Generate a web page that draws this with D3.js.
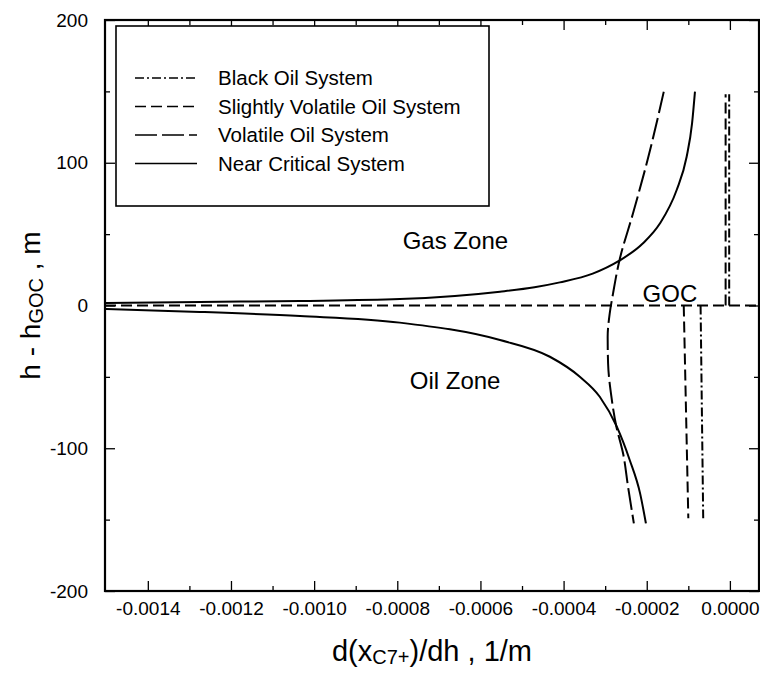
<!DOCTYPE html>
<html>
<head>
<meta charset="utf-8">
<script src="https://cdn.jsdelivr.net/npm/d3@7"></script>
<style>
  body { margin: 0; background: #fff; }
  text { font-family: "Liberation Sans", Arial, sans-serif; fill: #000; }
</style>
</head>
<body>
<script>
// tick values
var xTicks = [-0.0014, -0.0012, -0.0010, -0.0008, -0.0006, -0.0004, -0.0002, 0.0000];
var xMinorTicks = [-0.0013, -0.0011, -0.0009, -0.0007, -0.0005, -0.0003, -0.0001];
var yTicks = [-200, -100, 0, 100, 200];
var yMinorTicks = [-150, -50, 50, 150];

// series: [d(xC7+)/dh, h - hGOC]
var nearCriticalGas = [[-0.001501, 1.8], [-0.001275, 2.5], [-0.001034, 3.2], [-0.000794, 4.5], [-0.000553, 9.7],
                       [-0.000470, 12.8], [-0.000409, 16.2], [-0.000330, 22.3], [-0.000267, 31.2], [-0.000209, 43.6],
                       [-0.000168, 57.6], [-0.000128, 80.9], [-0.000104, 104.2], [-0.000091, 127.6], [-0.000084, 149.8]];
var nearCriticalOil = [[-0.001501, -2.5], [-0.001275, -4.5], [-0.001034, -7.4], [-0.000794, -12.0], [-0.000553, -24.2],
                       [-0.000433, -35.9], [-0.000361, -49.9], [-0.000313, -63.9], [-0.000272, -84.9], [-0.000241, -108.2],
                       [-0.000216, -131.6], [-0.000202, -152.6]];
var volatileOil = [[-0.000159, 149.8], [-0.000197, 103.1], [-0.000233, 64.6], [-0.000266, 31.2], [-0.000281, 8.5],
                   [-0.000289, -5.5], [-0.000294, -22], [-0.000293, -40.5], [-0.000285, -63.9], [-0.000273, -84.9],
                   [-0.000257, -103.5], [-0.000245, -126.9], [-0.000231, -152.6]];
var slightlyVolatileOilZone = [[-0.000111, 0], [-0.000100, -149]];
var slightlyVolatileGasZone = [[-0.0000103, 0], [-0.0000103, 148]];
var blackOilOilZone = [[-0.0000705, 0], [-0.0000642, -149]];
var blackOilGasZone = [[-0.0000017, 0], [-0.0000017, 148]];
var gocLine = [[-0.001503, 0], [0.00007, 0]];

var legendNames = ["Black Oil System", "Slightly Volatile Oil System", "Volatile Oil System", "Near Critical System"];
var annotations = [{text: "Gas Zone", x: -0.000787, h: 39.4},
                   {text: "Oil Zone", x: -0.00077, h: -58.3},
                   {text: "GOC", x: -0.00021, h: 2.6}];

var width = 760;
var height = 683;
var margin = {left: 105, top: 20, right: 1, bottom: 92};

var dashes = {
  black: "9,3,2,3",
  slight: "11,5",
  volatile: "22,5",
  near: null
};

var svg = d3.select("body").append("svg").attr("width", width).attr("height", height);

var x = d3.scaleLinear().domain([-0.001503, 0.00007]).range([margin.left, width - margin.right]);
var y = d3.scaleLinear().domain([-200, 200]).range([height - margin.bottom, margin.top]);

var fmtX = function(d){ return d.toFixed(4); };
var fmtY = function(d){ return String(d); };

function styleAxis(g){
  g.select(".domain").remove();
  g.selectAll(".tick line").attr("stroke", "black").attr("stroke-width", 1.3);
  g.selectAll(".tick text").style("font-size", "19px").style("font-family", "Liberation Sans, Arial, sans-serif");
}

// bottom
svg.append("g").attr("transform", "translate(0," + y(-200) + ")")
  .call(d3.axisBottom(x).tickValues(xTicks).tickFormat(fmtX).tickSize(-10).tickPadding(11)).call(styleAxis);
svg.append("g").attr("transform", "translate(0," + y(-200) + ")")
  .call(d3.axisBottom(x).tickValues(xMinorTicks).tickFormat("").tickSize(-5)).call(styleAxis);
// top
svg.append("g").attr("transform", "translate(0," + y(200) + ")")
  .call(d3.axisTop(x).tickValues(xTicks).tickFormat("").tickSize(-10)).call(styleAxis);
svg.append("g").attr("transform", "translate(0," + y(200) + ")")
  .call(d3.axisTop(x).tickValues(xMinorTicks).tickFormat("").tickSize(-5)).call(styleAxis);
// left
svg.append("g").attr("transform", "translate(" + x.range()[0] + ",0)")
  .call(d3.axisLeft(y).tickValues(yTicks).tickFormat(fmtY).tickSize(-10).tickPadding(17)).call(styleAxis);
svg.append("g").attr("transform", "translate(" + x.range()[0] + ",0)")
  .call(d3.axisLeft(y).tickValues(yMinorTicks).tickFormat("").tickSize(-5)).call(styleAxis);
// right
svg.append("g").attr("transform", "translate(" + x.range()[1] + ",0)")
  .call(d3.axisRight(y).tickValues(yTicks).tickFormat("").tickSize(-10)).call(styleAxis);
svg.append("g").attr("transform", "translate(" + x.range()[1] + ",0)")
  .call(d3.axisRight(y).tickValues(yMinorTicks).tickFormat("").tickSize(-5)).call(styleAxis);

// frame
svg.append("rect")
  .attr("x", x.range()[0]).attr("y", y(200))
  .attr("width", x.range()[1] - x.range()[0]).attr("height", y(-200) - y(200))
  .attr("fill", "none").attr("stroke", "black").attr("stroke-width", 2.2);

var line = d3.line().x(function(d){ return x(d[0]); }).y(function(d){ return y(d[1]); });
var smoothX = d3.line().x(function(d){ return x(d[0]); }).y(function(d){ return y(d[1]); }).curve(d3.curveMonotoneX);
var smoothY = d3.line().x(function(d){ return x(d[0]); }).y(function(d){ return y(d[1]); }).curve(d3.curveMonotoneY);

function drawSeries(data, gen, dash){
  svg.append("path")
    .attr("d", gen(data))
    .attr("fill", "none")
    .attr("stroke", "black")
    .attr("stroke-width", 2)
    .attr("stroke-dasharray", dash);
}

drawSeries(gocLine, line, dashes.slight);
drawSeries(slightlyVolatileOilZone, line, dashes.slight);
drawSeries(slightlyVolatileGasZone, line, dashes.slight);
drawSeries(blackOilOilZone, line, dashes.black);
drawSeries(blackOilGasZone, line, dashes.black);
drawSeries(volatileOil, smoothY, dashes.volatile);
drawSeries(nearCriticalGas, smoothX, dashes.near);
drawSeries(nearCriticalOil, smoothX, dashes.near);

// zone labels
svg.selectAll("text.note").data(annotations).enter().append("text")
  .attr("class", "note")
  .attr("x", function(d){ return x(d.x); })
  .attr("y", function(d){ return y(d.h); })
  .style("font-size", "24px")
  .text(function(d){ return d.text; });

// legend
var legend = svg.append("g");
legend.append("rect")
  .attr("x", 116).attr("y", 26).attr("width", 373).attr("height", 180)
  .attr("fill", "white").attr("stroke", "black").attr("stroke-width", 1.6);
var legendDash = [dashes.black, dashes.slight, dashes.volatile, dashes.near];
legendNames.forEach(function(name, i){
  var cy = 78 + i * 28.5;
  legend.append("line")
    .attr("x1", 135).attr("x2", 197).attr("y1", cy).attr("y2", cy)
    .attr("stroke", "black").attr("stroke-width", 1.6)
    .attr("stroke-dasharray", legendDash[i]);
  legend.append("text")
    .attr("x", 218).attr("y", cy + 7)
    .style("font-size", "20.5px")
    .text(name);
});

// axis titles
var xt = svg.append("text")
  .attr("x", (x.range()[0] + x.range()[1]) / 2).attr("y", 661)
  .attr("text-anchor", "middle")
  .style("font-size", "29px");
xt.append("tspan").text("d(x");
xt.append("tspan").attr("dy", 3).style("font-size", "20px").text("C7+");
xt.append("tspan").attr("dy", -3).text(")/dh , 1/m");

var yt = svg.append("text")
  .attr("transform", "translate(40," + y(0) + ") rotate(-90)")
  .attr("text-anchor", "middle")
  .style("font-size", "28px");
yt.append("tspan").text("h - h");
yt.append("tspan").attr("dy", 3).style("font-size", "20px").text("GOC");
yt.append("tspan").attr("dy", -3).text(" , m");
</script>
</body>
</html>
